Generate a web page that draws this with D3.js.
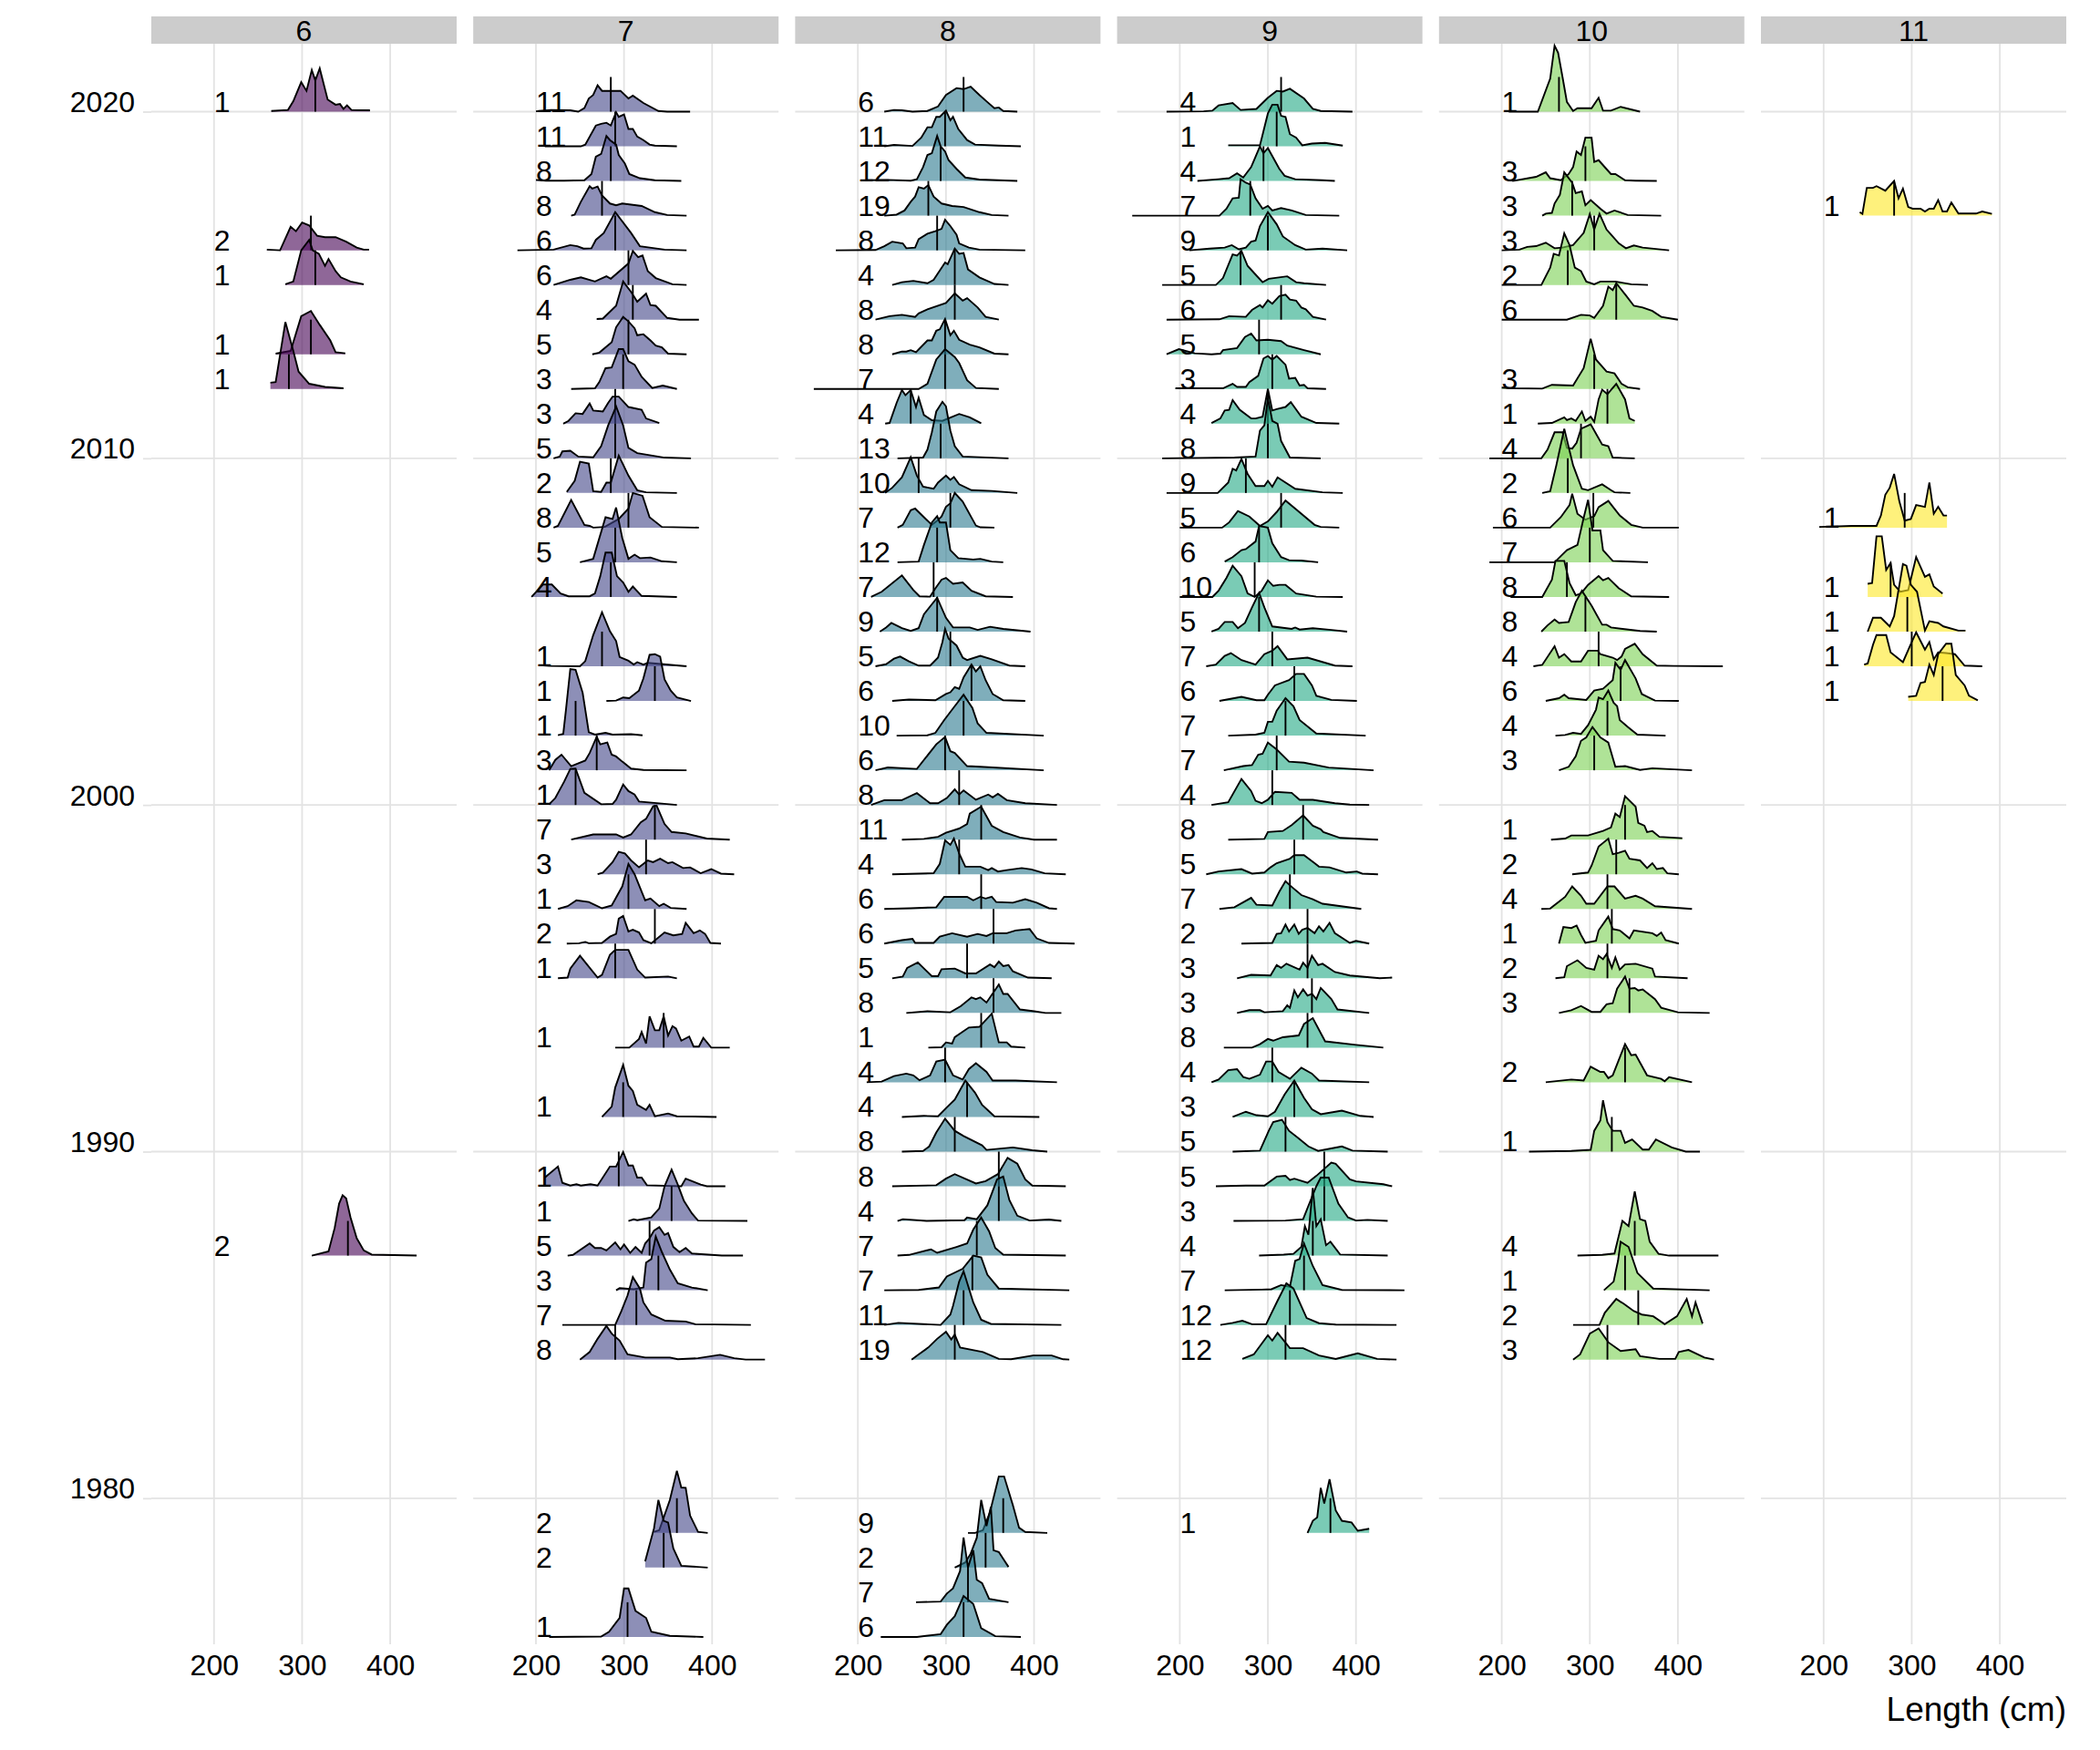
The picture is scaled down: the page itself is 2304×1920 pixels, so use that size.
<!DOCTYPE html>
<html>
<head>
<meta charset="utf-8">
<script src="https://cdn.jsdelivr.net/npm/d3@7"></script>
<style>
  body { margin: 0; background: #fff; }
  text { font-family: "Liberation Sans", Arial, sans-serif; fill: #000; }
</style>
</head>
<body>
<div id="chart"></div>
<script>
// Facets (age) and their colours
const ages = [6, 7, 8, 9, 10, 11];
const ageColours = ["#440154", "#414487", "#2A788E", "#22A884", "#7AD151", "#FDE725"];
const yearTicks = [2020, 2010, 2000, 1990, 1980];
const lengthTicks = [200, 300, 400];

// Each curve is a flat list: length (cm), density, length, density ...
const years6 = [2020, 2016, 2015, 2013, 2012, 1987];
const counts6 = [1, 2, 1, 1, 1, 2];
const medians6 = [315, 310, 315, 310, 285, 352];
const curves6 = [
  [265,2, 284,5, 290,30, 299,85, 305,60, 311,120, 315,90, 320,125, 329,35, 338,20, 343,22, 347,8, 351,18, 356,5, 377,4],
  [260,2, 275,0, 287,68, 293,55, 300,80, 308,72, 317,42, 326,38, 338,38, 350,25, 362,8, 370,2, 376,2],
  [281,2, 290,10, 299,100, 308,130, 312,100, 319,90, 326,55, 330,75, 338,40, 344,22, 355,10, 370,2],
  [270,2, 287,10, 299,110, 310,125, 320,85, 332,40, 338,6, 349,3],
  [264,18, 270,20, 281,193, 290,110, 296,50, 308,15, 326,6, 347,2],
  [311,0, 330,12, 337,80, 342,150, 346,174, 350,165, 355,110, 362,50, 370,15, 379,3, 430,0]
];

const years7 = [2020, 2019, 2018, 2017, 2016, 2015, 2014, 2013, 2012, 2011, 2010, 2009, 2008, 2007, 2006, 2004, 2003, 2002, 2001, 2000, 1999, 1998, 1997, 1996, 1995, 1993, 1991, 1989, 1988, 1987, 1986, 1985, 1984, 1979, 1978, 1976];
const counts7 = [11, 11, 8, 8, 6, 6, 4, 5, 3, 3, 5, 2, 8, 5, 4, 1, 1, 1, 3, 1, 7, 3, 1, 2, 1, 1, 1, 1, 1, 5, 3, 7, 8, 2, 2, 1];
const medians7 = [285, 290, 285, 275, 290, 305, 310, 305, 299, 290, 290, 285, 305, 290, 285, 275, 335, 245, 269, 245, 335, 325, 305, 335, 290, 345, 299, 294, 354, 329, 339, 314, 290, 360, 345, 304];
const curves7 = [
  [200,1, 217,5, 239,4, 248,0, 255,10, 260,38, 265,48, 270,76, 275,60, 296,60, 305,38, 310,46, 322,25, 339,2, 349,0, 375,0],
  [210,0, 251,0, 256,5, 268,60, 274,65, 280,68, 285,60, 291,98, 294,85, 300,92, 305,50, 310,50, 315,28, 322,18, 329,5, 335,2, 360,0],
  [200,3, 211,1, 232,1, 255,2, 263,20, 268,70, 274,78, 280,130, 284,118, 291,105, 294,75, 301,50, 306,20, 318,8, 335,2, 365,0],
  [240,0, 244,3, 251,40, 261,85, 264,78, 270,84, 275,58, 284,35, 291,30, 298,35, 320,28, 335,10, 349,2, 371,0],
  [179,0, 220,2, 239,15, 247,12, 254,5, 263,6, 268,30, 277,50, 290,110, 308,50, 318,12, 346,2, 371,0],
  [220,0, 239,15, 251,22, 267,10, 280,25, 285,18, 305,62, 310,98, 316,80, 321,85, 327,40, 336,20, 355,2, 371,0],
  [269,2, 276,3, 291,40, 299,110, 308,80, 315,52, 325,75, 330,42, 336,40, 349,5, 363,0, 385,0],
  [264,0, 272,5, 286,35, 291,78, 299,108, 305,95, 312,75, 315,55, 322,58, 330,40, 336,25, 343,20, 350,2, 371,0],
  [240,0, 267,2, 272,20, 279,60, 286,62, 294,115, 299,115, 305,80, 312,70, 320,35, 332,3, 344,10, 360,0],
  [231,0, 237,8, 245,30, 253,28, 261,58, 265,38, 276,35, 282,60, 287,78, 294,78, 305,48, 320,40, 325,15, 340,2],
  [220,0, 227,5, 230,20, 239,22, 248,5, 265,3, 274,35, 282,95, 287,125, 291,150, 299,95, 305,30, 315,15, 346,2, 376,0],
  [235,3, 244,35, 250,90, 260,85, 265,5, 274,3, 280,30, 285,30, 294,108, 305,50, 315,8, 325,2, 360,0],
  [220,0, 225,5, 240,80, 255,8, 261,5, 265,0, 278,2, 294,25, 305,55, 310,100, 321,92, 329,30, 343,2, 385,0],
  [250,0, 265,10, 279,130, 287,125, 291,158, 298,70, 305,10, 312,22, 318,12, 330,14, 343,3, 360,0],
  [195,0, 208,36, 218,36, 228,10, 237,2, 261,2, 267,10, 273,60, 279,128, 286,128, 292,60, 299,42, 305,15, 310,30, 320,3, 360,0],
  [205,3, 215,1, 250,0, 256,15, 265,90, 275,156, 284,101, 291,73, 295,27, 305,16, 311,5, 315,12, 322,5, 327,10, 371,0],
  [280,0, 291,1, 299,10, 306,8, 317,30, 322,65, 329,133, 335,135, 341,128, 346,62, 353,30, 360,10, 376,0],
  [225,1, 231,5, 234,73, 239,192, 245,190, 253,124, 260,10, 267,3, 279,8, 287,3, 308,4, 321,1],
  [215,0, 222,30, 229,45, 240,12, 256,28, 261,50, 269,97, 273,75, 281,80, 286,45, 291,40, 298,25, 308,5, 322,1, 371,0],
  [215,2, 222,20, 232,67, 239,104, 245,105, 255,35, 274,2, 287,3, 291,15, 299,59, 305,40, 312,30, 317,10, 360,0],
  [240,0, 265,15, 291,15, 299,6, 308,15, 319,50, 325,60, 333,96, 337,98, 346,45, 354,22, 370,18, 394,3, 420,0],
  [270,0, 276,5, 287,35, 294,65, 301,60, 308,40, 317,20, 327,40, 333,35, 341,45, 350,32, 355,35, 367,18, 375,20, 387,3, 399,15, 410,2, 425,0],
  [225,0, 236,8, 246,25, 260,20, 275,2, 286,10, 298,65, 305,130, 312,100, 324,25, 330,30, 340,8, 345,15, 353,3, 371,0],
  [235,0, 249,1, 256,5, 260,1, 275,2, 284,20, 291,28, 294,72, 299,80, 305,35, 310,40, 317,32, 322,10, 331,1, 346,32, 356,24, 366,28, 370,60, 379,30, 386,38, 392,28, 398,2, 410,0],
  [225,0, 236,2, 239,28, 250,65, 270,2, 275,10, 284,68, 290,82, 305,82, 315,25, 324,2, 350,5, 360,0],
  [290,0, 306,0, 317,25, 320,45, 325,12, 329,90, 335,50, 340,50, 345,90, 350,35, 355,62, 359,55, 365,20, 374,32, 379,3, 385,3, 390,28, 399,0, 420,0],
  [275,0, 286,30, 290,85, 299,150, 305,90, 310,75, 315,35, 325,20, 329,35, 335,2, 350,10, 360,2, 405,0],
  [210,25, 225,57, 230,10, 239,2, 246,6, 251,2, 262,6, 270,2, 284,57, 291,57, 299,99, 305,60, 310,60, 315,25, 320,25, 326,3, 365,0, 370,22, 387,5, 394,0, 415,0],
  [305,0, 311,5, 315,2, 331,10, 340,36, 346,100, 354,148, 361,105, 368,58, 377,22, 384,1, 440,0],
  [236,0, 242,2, 261,35, 267,22, 274,22, 280,15, 290,38, 296,18, 300,32, 307,8, 313,25, 320,8, 324,35, 329,50, 334,72, 340,82, 346,60, 350,65, 356,25, 363,10, 370,22, 377,6, 411,0, 435,0],
  [291,0, 295,6, 311,3, 322,8, 325,80, 331,90, 336,155, 343,110, 352,60, 361,20, 377,8, 395,0],
  [230,0, 290,0, 297,40, 304,85, 310,138, 318,105, 322,65, 331,30, 347,12, 370,10, 381,2, 444,0],
  [250,0, 261,22, 270,60, 280,97, 286,75, 295,55, 304,15, 324,6, 352,6, 361,1, 384,4, 409,14, 425,4, 438,0, 460,0],
  [334,3, 340,8, 352,95, 360,179, 365,131, 370,130, 375,50, 384,3, 395,0],
  [324,18, 334,113, 339,195, 345,135, 350,130, 356,55, 365,5, 395,0],
  [215,0, 274,1, 283,15, 295,55, 300,140, 305,140, 313,75, 325,55, 331,15, 352,3, 390,0]
];

const years8 = [2020, 2019, 2018, 2017, 2016, 2015, 2014, 2013, 2012, 2011, 2010, 2009, 2008, 2007, 2006, 2005, 2004, 2003, 2002, 2001, 2000, 1999, 1998, 1997, 1996, 1995, 1994, 1993, 1992, 1991, 1990, 1989, 1988, 1987, 1986, 1985, 1984, 1979, 1978, 1977, 1976];
const counts8 = [6, 11, 12, 19, 8, 4, 8, 8, 7, 4, 13, 10, 7, 12, 7, 9, 5, 6, 10, 6, 8, 11, 4, 6, 6, 5, 8, 1, 4, 4, 8, 8, 4, 7, 7, 11, 19, 9, 2, 7, 6];
const medians8 = [320, 299, 294, 280, 290, 310, 310, 299, 299, 260, 294, 269, 305, 290, 286, 290, 305, 329, 320, 299, 315, 340, 315, 340, 354, 324, 354, 340, 299, 324, 310, 360, 360, 335, 330, 320, 310, 365, 345, 325, 320];
const curves8 = [
  [230,0, 241,5, 250,4, 262,0, 279,2, 291,15, 300,48, 312,68, 320,65, 328,72, 338,48, 346,30, 355,10, 360,12, 365,2, 381,0],
  [230,0, 241,4, 262,1, 272,25, 279,55, 284,55, 289,85, 293,85, 300,103, 305,75, 308,85, 314,50, 324,18, 333,5, 360,2, 385,0],
  [210,2, 234,3, 260,1, 267,5, 274,40, 279,75, 284,80, 290,130, 294,100, 299,85, 303,60, 312,35, 322,10, 338,4, 381,0],
  [230,0, 244,3, 253,15, 260,40, 265,55, 269,82, 275,78, 280,88, 286,55, 295,35, 307,28, 320,25, 338,10, 352,2, 371,0],
  [175,0, 220,1, 230,12, 239,25, 251,20, 255,6, 265,8, 269,32, 279,48, 288,55, 295,62, 299,88, 305,70, 312,45, 315,20, 326,8, 338,2, 390,0],
  [239,0, 250,8, 263,12, 279,5, 286,15, 299,65, 302,60, 310,105, 315,90, 320,92, 325,45, 338,22, 355,3, 371,0],
  [220,0, 236,10, 250,14, 265,8, 269,18, 279,30, 300,48, 310,76, 319,55, 324,62, 336,35, 345,8, 360,0],
  [239,0, 250,8, 255,8, 260,12, 266,6, 279,40, 284,40, 289,68, 293,72, 299,102, 305,55, 309,68, 315,42, 327,28, 338,20, 355,2, 371,0],
  [150,0, 269,0, 279,15, 289,85, 299,115, 310,92, 315,75, 324,25, 334,3, 360,0],
  [231,0, 236,2, 244,60, 250,97, 254,82, 260,97, 266,48, 269,75, 275,25, 284,10, 296,8, 315,28, 327,18, 340,1],
  [245,0, 274,2, 279,25, 284,75, 289,135, 296,163, 300,150, 305,80, 310,35, 319,5, 371,0],
  [231,0, 239,15, 250,45, 260,103, 267,50, 274,18, 286,12, 291,30, 300,50, 305,38, 309,46, 315,25, 329,8, 352,6, 381,0],
  [245,0, 251,8, 260,50, 265,55, 284,8, 290,20, 295,32, 300,60, 305,70, 310,100, 319,75, 334,6, 339,1, 355,0],
  [245,0, 269,2, 275,50, 284,115, 290,133, 293,115, 300,115, 305,35, 314,12, 331,8, 339,10, 352,2, 365,0],
  [215,0, 227,15, 250,62, 263,20, 270,2, 282,1, 288,25, 295,50, 300,55, 308,38, 319,42, 329,18, 345,2, 376,0],
  [225,0, 232,12, 238,25, 250,10, 260,2, 269,10, 275,50, 290,98, 300,40, 308,12, 327,12, 336,5, 350,14, 365,8, 396,0],
  [220,0, 232,6, 241,22, 248,28, 258,14, 269,2, 282,2, 291,25, 296,70, 299,108, 303,80, 312,60, 319,25, 324,18, 339,30, 352,20, 372,2, 390,0],
  [239,0, 258,4, 288,2, 300,20, 305,25, 310,40, 315,35, 320,68, 329,105, 334,85, 339,100, 345,60, 353,20, 365,2, 390,0],
  [244,0, 279,1, 288,8, 298,45, 310,85, 320,118, 330,80, 336,35, 346,8, 411,0],
  [220,0, 234,8, 267,4, 289,75, 299,96, 305,55, 310,50, 324,12, 339,10, 411,0],
  [215,0, 230,14, 250,14, 267,34, 282,5, 291,5, 301,20, 310,45, 315,30, 320,42, 334,15, 348,30, 353,22, 359,32, 369,14, 390,5, 426,0],
  [250,0, 275,2, 291,8, 300,20, 315,32, 324,45, 327,75, 340,95, 352,40, 365,22, 384,6, 400,0, 426,0],
  [239,0, 286,3, 293,30, 299,98, 305,85, 309,103, 315,60, 322,22, 339,22, 348,12, 352,18, 359,8, 369,12, 386,18, 397,14, 412,3, 436,0],
  [230,0, 260,2, 289,5, 298,35, 324,35, 331,25, 339,35, 345,30, 352,35, 357,20, 376,18, 390,28, 403,18, 417,2, 426,0],
  [230,0, 250,10, 262,14, 265,2, 286,2, 293,20, 307,30, 324,20, 336,28, 346,22, 353,30, 369,30, 379,38, 395,42, 403,15, 417,2, 446,0],
  [239,0, 251,5, 256,30, 268,46, 284,6, 291,6, 295,26, 310,28, 322,14, 334,14, 350,40, 355,32, 360,48, 365,35, 371,38, 376,20, 393,2, 420,0],
  [255,0, 279,5, 305,2, 317,20, 329,45, 334,40, 339,45, 346,30, 360,82, 365,55, 370,55, 384,10, 400,5, 413,0, 431,0],
  [280,0, 295,1, 300,15, 307,12, 310,30, 326,58, 338,60, 352,98, 360,15, 369,15, 374,3, 390,0],
  [210,0, 227,2, 241,18, 255,25, 263,20, 270,6, 282,20, 289,60, 299,65, 308,20, 319,8, 326,38, 334,55, 346,30, 353,5, 379,5, 426,0],
  [250,0, 275,3, 291,2, 300,25, 310,50, 322,105, 333,70, 341,35, 355,2, 406,0],
  [250,0, 274,2, 281,15, 289,55, 299,95, 310,60, 320,45, 341,18, 346,5, 376,12, 398,4, 415,0],
  [239,0, 289,3, 300,22, 310,35, 334,8, 345,15, 359,35, 370,82, 381,65, 390,20, 398,2, 436,0],
  [245,0, 251,5, 278,0, 321,2, 324,10, 335,5, 347,45, 358,120, 365,128, 372,60, 381,15, 395,1, 417,4, 431,0],
  [245,0, 258,2, 283,18, 290,8, 312,25, 324,35, 331,75, 340,110, 349,70, 356,22, 365,3, 436,0],
  [230,0, 269,1, 292,8, 301,40, 319,62, 331,100, 340,95, 347,45, 360,5, 440,0],
  [230,0, 246,6, 294,0, 305,30, 308,55, 315,125, 320,155, 331,65, 340,15, 351,3, 431,0],
  [261,0, 269,15, 280,35, 290,60, 300,80, 306,58, 310,72, 316,35, 342,22, 360,2, 374,1, 399,12, 420,12, 433,1, 440,0],
  [325,0, 333,0, 342,8, 350,60, 360,163, 366,163, 376,80, 383,15, 390,3, 415,0],
  [310,0, 322,15, 328,40, 335,86, 340,195, 346,120, 351,175, 354,50, 360,45, 365,25, 371,2],
  [266,0, 294,2, 301,25, 308,40, 316,90, 320,187, 325,100, 331,150, 335,65, 341,55, 349,10, 371,0],
  [226,0, 267,0, 294,8, 301,35, 310,60, 320,118, 331,95, 340,25, 356,2, 385,0]
];

const years9 = [2020, 2019, 2018, 2017, 2016, 2015, 2014, 2013, 2012, 2011, 2010, 2009, 2008, 2007, 2006, 2005, 2004, 2003, 2002, 2001, 2000, 1999, 1998, 1997, 1996, 1995, 1994, 1993, 1992, 1991, 1990, 1989, 1988, 1987, 1986, 1985, 1984, 1979];
const counts9 = [4, 1, 4, 7, 9, 5, 6, 5, 3, 4, 8, 9, 5, 6, 10, 5, 7, 6, 7, 7, 4, 8, 5, 7, 2, 3, 3, 8, 4, 3, 5, 5, 3, 4, 7, 12, 12, 1];
const medians9 = [315, 310, 295, 280, 300, 269, 315, 290, 305, 300, 300, 275, 315, 290, 285, 290, 305, 330, 320, 310, 305, 340, 330, 325, 345, 345, 350, 345, 305, 330, 320, 364, 364, 351, 341, 325, 320, 371];
const curves9 = [
  [185,0, 227,1, 237,3, 244,18, 260,25, 269,5, 287,8, 300,40, 310,60, 317,58, 325,66, 341,38, 351,8, 360,2, 396,0],
  [255,3, 291,3, 300,95, 305,120, 311,120, 315,88, 320,85, 325,35, 332,25, 339,3, 350,8, 365,10, 385,2],
  [220,0, 244,5, 256,8, 265,22, 272,10, 281,40, 291,100, 295,80, 300,95, 313,35, 319,15, 331,5, 362,2, 376,0],
  [146,0, 245,0, 253,20, 260,50, 267,52, 269,105, 275,95, 280,90, 286,50, 294,20, 300,28, 305,15, 315,22, 327,15, 343,2, 381,0],
  [211,0, 234,5, 251,8, 259,15, 267,3, 275,8, 281,25, 286,28, 291,70, 300,110, 310,75, 317,40, 331,15, 343,2, 362,5, 390,0],
  [180,0, 241,0, 249,20, 260,88, 265,85, 270,98, 277,55, 286,30, 294,8, 301,18, 322,25, 332,8, 341,5, 366,0],
  [185,0, 245,1, 256,10, 275,8, 282,28, 291,42, 294,35, 300,56, 305,46, 313,68, 320,72, 325,58, 332,55, 338,35, 343,30, 351,8, 366,0],
  [185,0, 199,15, 217,3, 236,0, 246,2, 249,12, 265,18, 274,50, 281,60, 287,40, 300,42, 315,38, 322,25, 341,12, 360,0],
  [195,2, 249,2, 260,15, 265,6, 275,6, 279,20, 289,38, 295,88, 300,95, 305,85, 310,95, 320,70, 324,30, 331,32, 336,10, 341,12, 345,2, 366,0],
  [236,2, 246,15, 251,38, 256,40, 260,68, 268,40, 281,15, 286,15, 294,20, 300,100, 305,38, 310,42, 320,48, 326,62, 338,20, 355,2, 381,0],
  [180,0, 262,2, 286,5, 291,80, 296,95, 300,173, 305,108, 311,100, 315,50, 325,2, 360,0],
  [185,0, 243,0, 255,30, 260,70, 264,65, 270,98, 277,55, 286,20, 296,20, 300,35, 305,18, 311,45, 331,12, 362,2, 385,0],
  [200,0, 248,0, 256,15, 266,48, 279,32, 291,5, 300,18, 310,45, 320,78, 331,55, 353,8, 360,2, 381,0],
  [251,2, 260,15, 270,35, 275,38, 286,60, 290,105, 300,100, 305,55, 315,15, 324,6, 338,5, 357,0],
  [200,0, 237,0, 244,18, 253,55, 260,90, 270,60, 277,10, 285,0, 293,18, 300,48, 306,32, 313,35, 320,35, 332,10, 355,1, 385,0],
  [236,0, 244,8, 251,28, 260,28, 266,10, 274,25, 282,70, 290,112, 296,70, 305,15, 327,8, 331,12, 336,6, 351,10, 372,5, 390,0],
  [230,0, 241,5, 251,30, 258,38, 270,18, 286,5, 296,35, 305,45, 311,58, 322,20, 345,25, 376,2, 396,0],
  [245,0, 270,12, 287,2, 296,2, 300,18, 308,45, 324,60, 332,78, 341,78, 350,45, 355,15, 372,3, 401,0],
  [255,0, 286,3, 296,8, 300,40, 305,40, 310,72, 320,108, 329,85, 336,45, 355,6, 411,0],
  [250,0, 272,12, 282,15, 289,45, 294,48, 300,80, 310,60, 324,25, 341,22, 369,8, 420,0],
  [236,0, 255,8, 270,75, 281,40, 286,12, 293,5, 300,15, 308,38, 327,35, 336,15, 351,15, 376,5, 393,1, 415,0],
  [255,0, 296,2, 300,22, 317,25, 327,42, 340,70, 351,40, 360,30, 363,22, 382,5, 425,0],
  [230,0, 244,8, 270,15, 282,2, 296,5, 303,20, 310,32, 325,45, 330,55, 341,55, 353,32, 358,22, 370,20, 389,5, 401,8, 407,2, 425,0],
  [245,0, 262,5, 281,32, 287,12, 305,10, 313,50, 320,80, 325,68, 338,40, 351,28, 362,15, 406,0],
  [270,0, 305,2, 310,28, 315,30, 320,55, 324,35, 330,55, 335,28, 339,40, 345,45, 353,30, 358,50, 363,35, 370,60, 376,30, 393,2, 400,8, 415,0],
  [265,0, 281,10, 303,8, 310,38, 315,30, 321,42, 336,25, 340,45, 345,30, 350,65, 357,38, 362,42, 376,18, 393,8, 427,0, 441,2],
  [265,0, 279,8, 291,8, 296,2, 317,5, 322,22, 325,15, 330,65, 334,45, 340,68, 345,50, 350,55, 355,40, 360,72, 372,40, 379,10, 415,0],
  [250,0, 282,0, 291,10, 300,25, 306,20, 317,30, 335,35, 341,68, 351,85, 365,18, 400,8, 431,0],
  [236,0, 244,8, 255,35, 265,38, 272,15, 279,10, 291,22, 298,60, 305,60, 312,30, 325,10, 338,42, 350,25, 358,5, 415,0],
  [260,0, 275,15, 287,5, 300,2, 308,15, 319,65, 330,105, 341,55, 350,22, 360,8, 384,18, 405,3, 420,0],
  [260,0, 291,3, 301,60, 306,85, 316,92, 324,60, 334,40, 346,15, 357,2, 384,15, 396,3, 436,0],
  [241,0, 275,2, 296,2, 310,28, 320,30, 325,18, 330,22, 345,10, 355,30, 372,68, 377,65, 393,20, 400,14, 431,6, 441,0],
  [261,0, 320,1, 340,5, 347,50, 355,100, 360,125, 369,125, 380,50, 391,10, 400,1, 413,3, 436,0],
  [290,0, 318,3, 329,5, 338,25, 342,85, 346,60, 351,195, 355,85, 360,105, 366,30, 371,40, 382,3, 436,0],
  [251,0, 293,2, 304,3, 315,15, 325,10, 331,85, 336,90, 341,135, 351,70, 362,15, 384,1, 455,0],
  [246,0, 260,6, 271,12, 282,2, 298,2, 311,70, 321,120, 329,105, 344,20, 358,5, 377,1, 446,0],
  [271,2, 284,15, 300,70, 305,55, 311,77, 325,33, 340,33, 358,12, 377,2, 402,18, 424,2, 446,0],
  [345,0, 351,35, 356,45, 360,130, 364,85, 370,155, 377,65, 384,35, 395,30, 402,6, 415,12]
];

const years10 = [2020, 2018, 2017, 2016, 2015, 2014, 2012, 2011, 2010, 2009, 2008, 2007, 2006, 2005, 2004, 2003, 2002, 2001, 1999, 1998, 1997, 1996, 1995, 1994, 1992, 1990, 1987, 1986, 1985, 1984];
const counts10 = [1, 3, 3, 3, 2, 6, 3, 1, 4, 2, 6, 7, 8, 8, 4, 6, 4, 3, 1, 2, 4, 1, 2, 3, 2, 1, 4, 1, 2, 3];
const medians10 = [265, 295, 280, 305, 275, 330, 305, 320, 290, 275, 304, 300, 274, 295, 310, 335, 320, 305, 340, 330, 320, 325, 320, 345, 340, 325, 351, 340, 355, 320];
const curves10 = [
  [208,0, 241,0, 255,95, 260,190, 264,170, 269,100, 274,28, 281,2, 286,10, 302,10, 310,40, 315,3, 324,3, 335,14, 357,0],
  [212,0, 239,12, 250,25, 255,8, 267,2, 276,20, 281,40, 285,85, 290,75, 295,125, 302,125, 305,55, 310,60, 324,20, 329,20, 340,2, 352,1, 376,0],
  [246,0, 250,6, 257,8, 260,35, 266,60, 271,125, 280,95, 284,65, 291,70, 295,30, 301,45, 312,20, 319,6, 328,15, 343,2, 381,0],
  [200,0, 220,2, 229,10, 239,12, 250,22, 260,6, 269,8, 281,15, 293,50, 300,105, 305,60, 311,105, 319,60, 333,20, 341,6, 350,14, 360,8, 390,0],
  [200,0, 245,0, 255,50, 259,90, 265,85, 271,149, 277,115, 283,50, 290,40, 296,10, 305,2, 312,10, 329,10, 347,2, 366,0],
  [200,0, 274,0, 290,14, 300,12, 305,5, 315,40, 321,95, 326,85, 330,105, 341,70, 350,40, 360,35, 371,25, 381,8, 400,0],
  [200,4, 215,2, 246,1, 257,12, 281,10, 293,60, 301,145, 307,85, 319,50, 328,45, 336,15, 343,5, 357,0],
  [241,0, 257,2, 271,18, 274,10, 279,15, 284,8, 291,35, 295,8, 301,20, 305,5, 310,70, 314,98, 320,85, 330,115, 340,70, 345,15, 351,8],
  [186,0, 245,0, 252,25, 260,75, 269,75, 274,30, 280,28, 285,45, 290,85, 301,98, 314,40, 321,35, 326,2, 351,0],
  [246,0, 255,5, 262,80, 271,185, 281,80, 291,12, 298,8, 314,25, 324,8, 328,2, 346,0],
  [190,0, 255,0, 267,30, 277,65, 280,98, 286,40, 295,23, 305,33, 310,59, 321,77, 334,35, 347,8, 360,0, 401,0],
  [186,0, 260,0, 274,35, 286,50, 293,128, 298,180, 303,92, 312,92, 315,35, 326,4, 366,0],
  [210,0, 246,0, 257,50, 261,104, 271,104, 277,40, 284,5, 290,10, 298,35, 310,60, 315,48, 321,55, 333,25, 347,2, 390,0],
  [245,0, 252,18, 260,35, 265,25, 276,28, 284,85, 291,118, 302,75, 314,20, 319,20, 324,12, 357,2, 376,0],
  [236,0, 246,4, 260,58, 265,25, 271,35, 279,14, 290,14, 298,45, 309,45, 312,35, 326,25, 331,18, 336,28, 340,50, 351,65, 360,35, 376,2, 395,1, 451,0],
  [250,0, 265,8, 271,18, 276,8, 296,3, 305,30, 315,35, 326,60, 329,110, 335,90, 340,118, 352,65, 359,20, 374,1, 401,0],
  [261,0, 272,2, 281,8, 290,5, 298,30, 307,75, 310,110, 315,105, 321,130, 327,95, 331,85, 334,45, 343,25, 354,3, 386,0],
  [265,0, 276,10, 284,40, 290,85, 296,95, 303,125, 312,95, 321,80, 329,10, 340,12, 357,1, 371,6, 416,0],
  [256,0, 272,3, 279,12, 298,12, 315,25, 324,35, 329,75, 334,65, 340,125, 352,95, 355,48, 362,40, 365,22, 371,25, 379,8, 405,4],
  [280,0, 298,5, 302,25, 310,80, 321,103, 326,58, 333,62, 340,68, 345,45, 357,40, 365,18, 371,32, 376,15, 383,18, 388,3, 401,0],
  [245,0, 255,1, 267,25, 272,35, 280,65, 290,38, 296,15, 305,15, 320,65, 328,65, 340,30, 352,38, 360,30, 374,8, 416,0],
  [265,0, 270,48, 279,45, 285,52, 290,25, 295,2, 307,8, 310,38, 321,78, 326,42, 334,38, 345,15, 350,38, 371,30, 376,22, 381,32, 386,10, 401,0],
  [261,0, 271,3, 274,35, 286,52, 296,30, 305,25, 310,65, 315,55, 319,70, 325,30, 329,60, 334,25, 340,40, 352,42, 371,28, 374,5, 411,0],
  [265,0, 279,8, 290,20, 302,3, 312,3, 319,25, 326,28, 331,70, 340,105, 345,70, 351,72, 355,65, 360,68, 374,40, 381,15, 400,2, 436,0],
  [250,0, 279,8, 293,5, 301,45, 312,30, 316,30, 321,12, 326,20, 340,110, 347,78, 352,80, 365,20, 381,10, 385,3, 390,15, 416,0],
  [231,0, 279,2, 301,5, 305,60, 312,90, 315,148, 320,85, 326,60, 335,60, 340,25, 348,35, 360,6, 367,6, 375,35, 393,12, 409,0, 425,0],
  [286,0, 314,2, 328,6, 337,100, 344,85, 351,185, 357,105, 363,100, 368,40, 378,5, 390,0, 446,0],
  [316,0, 327,25, 332,85, 335,140, 344,125, 354,50, 372,5, 436,0],
  [281,0, 311,0, 317,35, 330,75, 339,60, 350,40, 359,30, 372,25, 385,2, 399,25, 410,75, 416,25, 420,65, 428,4],
  [281,0, 289,15, 300,75, 310,90, 321,50, 335,25, 352,30, 357,10, 379,2, 397,2, 401,22, 412,28, 430,6, 441,0]
];

const years11 = [2017, 2008, 2006, 2005, 2004, 2003];
const counts11 = [1, 1, 1, 1, 1, 1];
const medians11 = [280, 292, 276, 295, 300, 335];
const curves11 = [
  [241,10, 244,5, 249,80, 256,80, 260,85, 270,72, 280,100, 285,50, 290,78, 296,25, 301,20, 310,20, 315,12, 320,20, 325,20, 330,45, 335,12, 340,12, 345,38, 353,6, 373,6, 380,12, 391,5],
  [195,2, 232,5, 260,5, 265,35, 270,95, 275,115, 280,155, 286,75, 292,20, 299,25, 305,65, 315,60, 320,130, 325,40, 330,60, 336,35, 340,35],
  [250,38, 255,40, 260,175, 266,175, 271,78, 276,98, 280,35, 287,15, 296,20, 305,115, 315,58, 320,65, 325,30, 335,10],
  [250,0, 256,40, 265,40, 275,15, 280,45, 290,195, 294,190, 299,135, 306,115, 315,3, 320,30, 330,25, 336,15, 353,3, 361,3],
  [246,5, 250,8, 256,62, 260,90, 271,90, 276,40, 290,12, 300,70, 305,98, 315,48, 320,70, 325,20, 330,40, 339,38, 349,35, 360,2, 380,0],
  [296,12, 305,15, 310,52, 315,55, 320,105, 325,75, 330,135, 339,165, 345,165, 350,75, 360,45, 365,15, 375,2]
];

const panelData = [
  [years6, counts6, medians6, curves6],
  [years7, counts7, medians7, curves7],
  [years8, counts8, medians8, curves8],
  [years9, counts9, medians9, curves9],
  [years10, counts10, medians10, curves10],
  [years11, counts11, medians11, curves11]
];

const width = 2304, height = 1920;
const panelWidth = 335, panelStep = 353.2, firstPanel = 166;
const stripTop = 18, stripBottom = 48, gridBottom = 1804;
const labelFont = 32;

const svg = d3.select("#chart").append("svg")
  .attr("width", width)
  .attr("height", height);

// one y scale for every facet, density height is 100 units = one year row
const y = d3.scaleLinear().domain([2020, 1980]).range([122.5, 1643.8]);
const rowHeight = d3.scaleLinear().domain([0, 100]).range([0, y(2019) - y(2020)]);

function toPoints(flat) {
  const points = [];
  for (let i = 0; i < flat.length; i += 2) points.push({ length: flat[i], density: flat[i + 1] });
  return points;
}

ages.forEach((age, i) => {
  const left = firstPanel + i * panelStep;
  const [years, counts, medians, curves] = panelData[i];
  const panel = svg.append("g").attr("transform", `translate(${left},0)`);

  // x maps 200 cm to just under 69 px inside the panel, 0.9665 px per cm
  const x = d3.scaleLinear().domain([200, 400]).range([68.8, 68.8 + 193.3]);

  // grey strip with age
  panel.append("rect")
    .attr("x", 0).attr("y", stripTop)
    .attr("width", panelWidth).attr("height", stripBottom - stripTop)
    .attr("fill", "#cccccc");
  panel.append("text")
    .attr("x", panelWidth / 2).attr("y", 45)
    .attr("text-anchor", "middle")
    .attr("font-size", labelFont)
    .text(age);

  // grid
  panel.selectAll(".vgrid").data(lengthTicks).join("line")
    .attr("x1", d => x(d)).attr("x2", d => x(d))
    .attr("y1", stripBottom).attr("y2", gridBottom)
    .attr("stroke", "#e3e3e3").attr("stroke-width", 1.8);
  panel.selectAll(".hgrid").data(yearTicks).join("line")
    .attr("x1", 0).attr("x2", panelWidth)
    .attr("y1", d => y(d)).attr("y2", d => y(d))
    .attr("stroke", "#e3e3e3").attr("stroke-width", 1.8);

  // x axis labels
  const xAxis = panel.append("g")
    .attr("transform", `translate(0,${gridBottom})`)
    .call(d3.axisBottom(x).tickValues(lengthTicks).tickSize(0).tickFormat(d3.format("d")));
  xAxis.select(".domain").remove();
  xAxis.selectAll("text")
    .attr("y", 34).attr("dy", 0)
    .attr("font-size", labelFont)
    .attr("font-family", '"Liberation Sans", Arial, sans-serif');

  // ridges, top row first so lower rows lie over upper ones
  const area = d3.area()
    .x(d => x(d.length))
    .y1(d => -rowHeight(d.density))
    .y0(0);
  const line = d3.line()
    .x(d => x(d.length))
    .y(d => -rowHeight(d.density));

  years.forEach((year, r) => {
    const points = toPoints(curves[r]);
    const ridge = panel.append("g").attr("transform", `translate(0,${y(year)})`);
    ridge.append("path")
      .attr("d", area(points))
      .attr("fill", ageColours[i])
      .attr("fill-opacity", 0.6);
    ridge.append("path")
      .attr("d", line(points))
      .attr("fill", "none")
      .attr("stroke", "#000")
      .attr("stroke-width", 1.9);
    ridge.append("line")
      .attr("x1", x(medians[r])).attr("x2", x(medians[r]))
      .attr("y1", 0).attr("y2", -rowHeight(100))
      .attr("stroke", "#000")
      .attr("stroke-width", 1.9);
  });

  // sample counts
  panel.selectAll(".count").data(years).join("text")
    .attr("x", x(200))
    .attr("y", d => y(d))
    .attr("font-size", labelFont)
    .text((d, r) => counts[r]);
});

// year axis, only on the first facet
const yAxis = svg.append("g")
  .attr("transform", `translate(${firstPanel},0)`)
  .call(d3.axisLeft(y).tickValues(yearTicks).tickSize(9).tickPadding(9).tickFormat(d3.format("d")));
yAxis.select(".domain").remove();
yAxis.selectAll("line").attr("stroke", "#e3e3e3").attr("stroke-width", 1.8);
yAxis.selectAll("text")
  .attr("dy", 0)
  .attr("font-size", labelFont)
  .attr("font-family", '"Liberation Sans", Arial, sans-serif');

// axis title
svg.append("text")
  .attr("x", firstPanel + 5 * panelStep + panelWidth)
  .attr("y", 1888)
  .attr("text-anchor", "end")
  .attr("font-size", 37)
  .text("Length (cm)");
</script>
</body>
</html>
